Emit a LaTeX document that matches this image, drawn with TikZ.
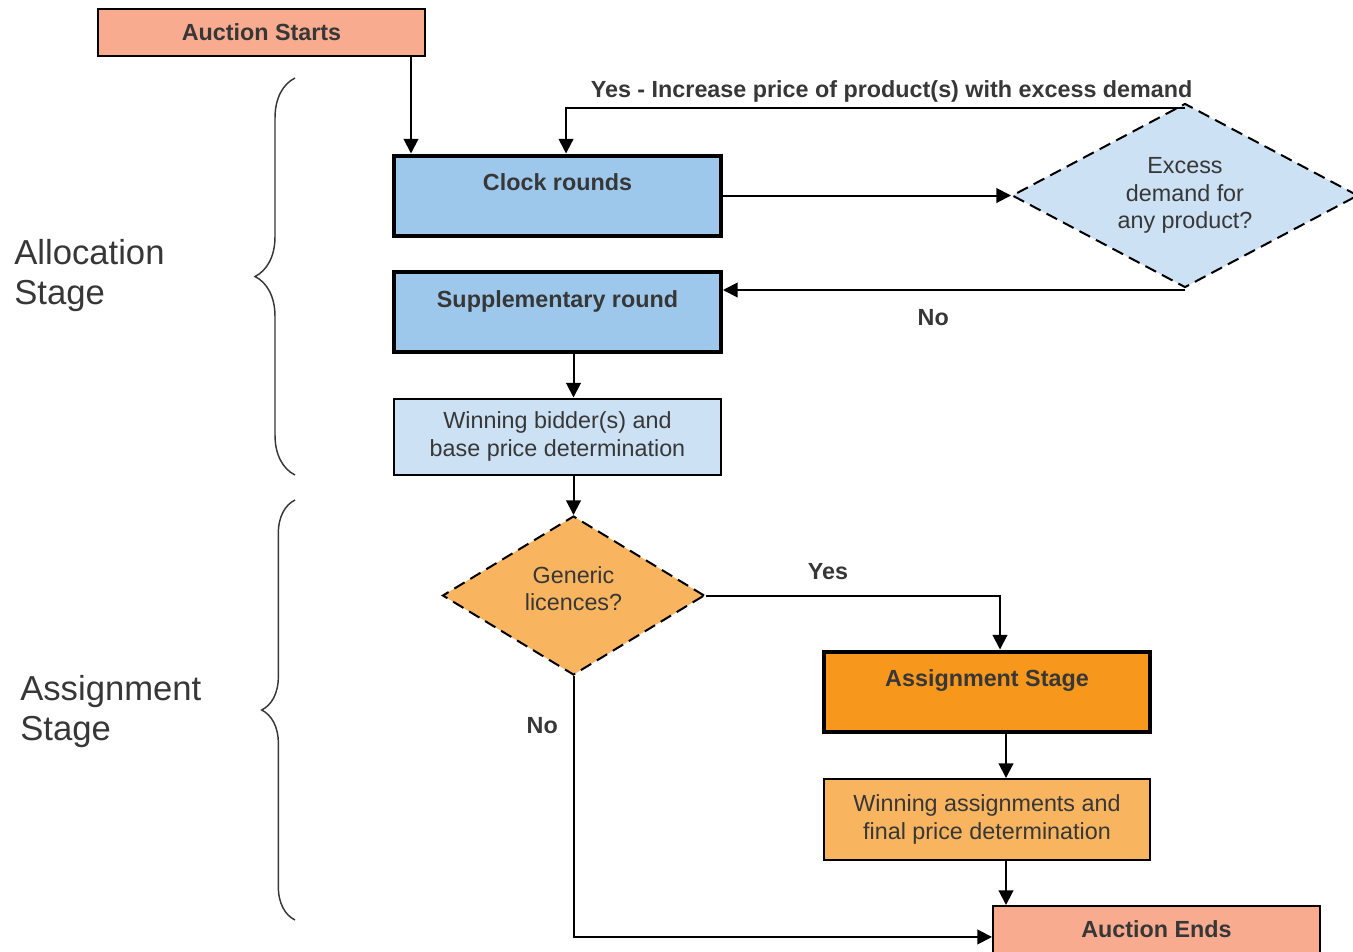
\documentclass[tikz,border=0pt]{standalone}
\usepackage{fontspec}
\setmainfont{Liberation Sans}
\usepackage{tikz}
\usetikzlibrary{positioning,shapes.geometric,arrows.meta,decorations.pathreplacing}

\definecolor{salmon}{RGB}{248,171,143}
\definecolor{clockblue}{RGB}{158,200,235}
\definecolor{paleblue}{RGB}{204,225,244}
\definecolor{deeporange}{RGB}{247,152,29}
\definecolor{softorange}{RGB}{249,180,96}
\definecolor{inkgrey}{RGB}{55,55,55}

\tikzset{
  boxtext/.style={font=\fontsize{17.5}{20.5}\selectfont, text=inkgrey, align=center, inner sep=0pt},
  endbox/.style={boxtext, rectangle, draw=black, line width=1.5pt, fill=salmon, font=\bfseries\fontsize{17.5}{20.5}\selectfont, minimum width=245.25pt, minimum height=35.25pt},
  stagebox/.style={boxtext, rectangle, draw=black, line width=3pt, font=\bfseries\fontsize{17.5}{20.5}\selectfont, minimum width=245.25pt, minimum height=60pt, text height=12.5pt, text depth=19.5pt},
  resultbox/.style={boxtext, rectangle, draw=black, line width=1.5pt, minimum width=245.25pt, minimum height=57pt},
  question/.style={boxtext, diamond, draw=black, line width=1.5pt, dash pattern=on 9pt off 5pt},
  flow/.style={line width=1.5pt, -{Triangle[length=11pt,width=11pt]}},
  flowlabel/.style={font=\bfseries\fontsize{17.5}{20.5}\selectfont, text=inkgrey, inner sep=0pt},
  stagebrace/.style={decorate, decoration={brace, amplitude=#1}, line width=1.1pt, draw=inkgrey},
  stagelabel/.style={font=\fontsize{26}{30}\selectfont, text=inkgrey, align=left, anchor=west, inner sep=0pt},
}

\begin{document}
\begin{tikzpicture}[x=0.75pt,y=0.75pt,yscale=-1,xscale=1]
\useasboundingbox (0,0) rectangle (1353,951);

%Shapes: start and end
\node (start) at (261.5,32.5) [endbox] {Auction Starts};
\node (fin) at (1156.5,929.5) [endbox] {Auction Ends};

%Shapes: allocation stage
\node (clock) at (557.5,195.5) [stagebox, fill=clockblue] {Clock rounds};
\node (supp) at (557.5,312) [stagebox, fill=clockblue] {Supplementary round};
\node (winbid) at (557.5,436.5) [resultbox, fill=paleblue] {Winning bidder(s) and\\base price determination};
\node (excess) at (1185,195.5) [question, fill=paleblue, aspect=1.88, minimum width=259.5pt, minimum height=138pt] {Excess\\demand for\\any product?};

%Shapes: assignment stage
\node (gen) at (573.5,595.5) [question, fill=softorange, aspect=1.64, text depth=10pt, minimum width=196.5pt, minimum height=119.25pt] {Generic\\licences?};
\node (assign) at (987,691.5) [stagebox, fill=deeporange, minimum width=244.5pt] {Assignment Stage};
\node (winass) at (987,819.5) [resultbox, fill=softorange, minimum width=244.5pt, minimum height=60.75pt] {Winning assignments and\\final price determination};

%Straight Lines
\draw[flow] ([xshift=-11.25pt]start.south east) -- ([xshift=-11.25pt]start.south east |- clock.north);
\draw[flow] (clock.east) -- (excess.west);
\coordinate (yesout) at ([yshift=3.75pt]excess.north);
\coordinate (yesin) at ([xshift=6.4pt]clock.north);
\draw[flow] (yesout) -| (yesin) node[flowlabel, above=3pt, pos=0.237] {Yes - Increase price of product(s) with excess demand};
\coordinate (noin) at ([yshift=-16.5pt]supp.east);
\draw[flow] (excess.south |- noin) -- (noin) node[flowlabel, below=14pt, pos=0.545] {No};
\draw[flow] (supp.south -| gen.north) -- (winbid.north -| gen.north);
\draw[flow] (winbid.south -| gen.north) -- (gen.north);
\draw[flow] (gen.east) -| ([xshift=9.75pt]assign.north) node[flowlabel, above=10.75pt, pos=0.208] {Yes};
\draw[flow] ([xshift=14.25pt]assign.south) -- ([xshift=14.25pt]winass.north);
\draw[flow] ([xshift=14.25pt]winass.south) -- ([xshift=14.25pt]winass.south |- fin.north);
\coordinate (noend) at ([yshift=5.6pt]fin.west);
\draw[flow] (gen.south) |- (noend) node[flowlabel, left=11pt, pos=0.095] {No};

%Braces
\draw[stagebrace=30pt] (295,475) -- (295,78);
\draw[stagebrace=25pt] (295,920) -- (295,500);

% Text Node
\node (alloclabel) at (14,276) [stagelabel] {Allocation\\Stage};
% Text Node
\node (assignlabel) at (20,712) [stagelabel] {Assignment\\Stage};
\end{tikzpicture}
\end{document}
